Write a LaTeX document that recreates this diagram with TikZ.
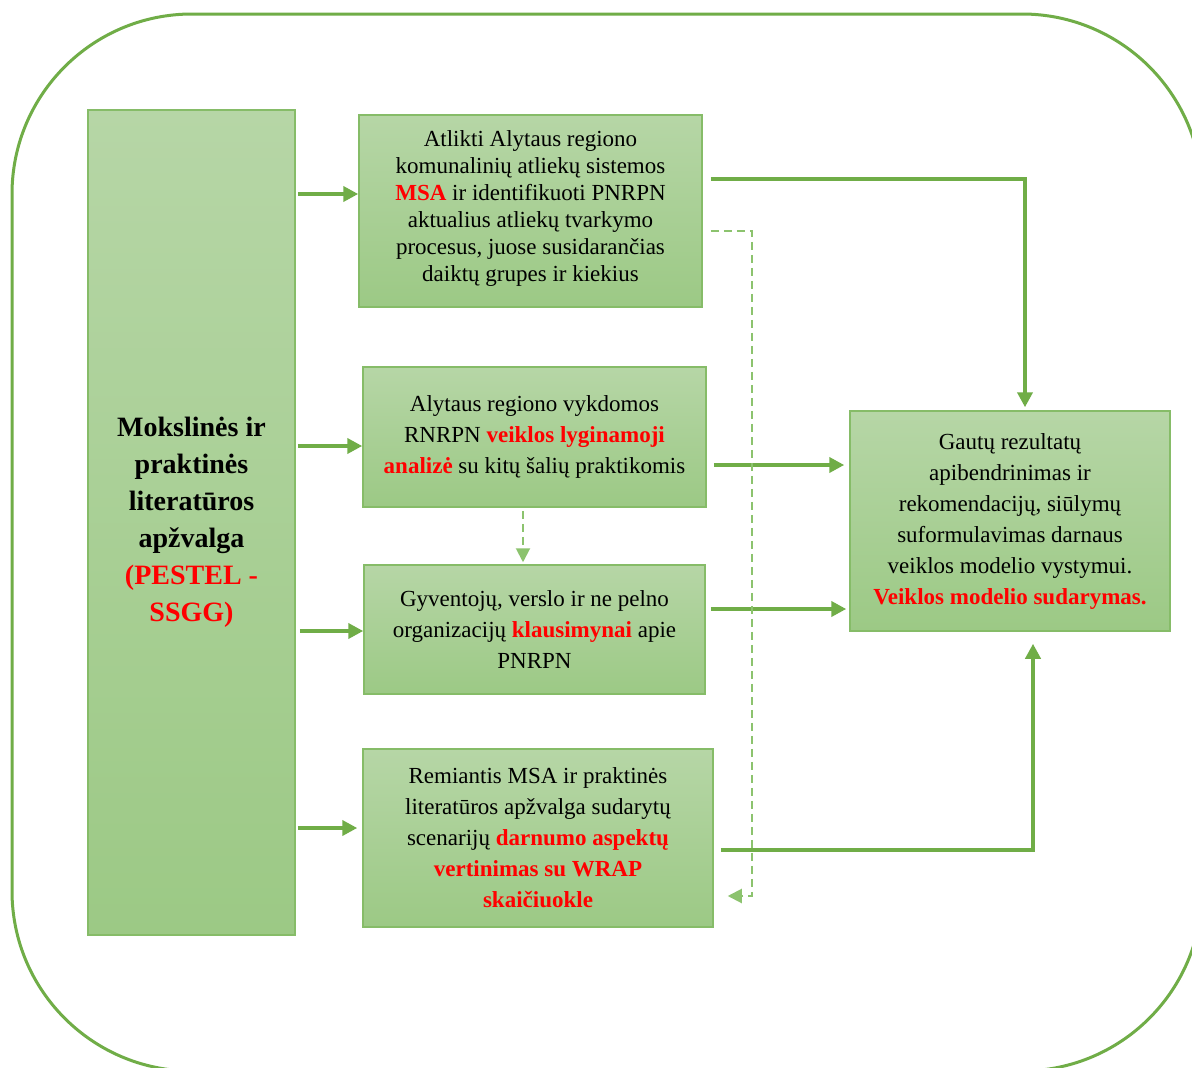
\documentclass[tikz,border=0pt]{standalone}
\usepackage{fontspec}
\setmainfont{Liberation Serif}
\usetikzlibrary{arrows.meta,calc}
\definecolor{gline}{HTML}{70AD47}
\definecolor{gdash}{HTML}{8CC36E}
\definecolor{gtop}{HTML}{B6D6A6}
\definecolor{gbot}{HTML}{9CC985}
\definecolor{gborder}{HTML}{86BC68}
\definecolor{hred}{HTML}{FF0000}
\newcommand{\hl}[1]{\textcolor{hred}{\textbf{#1}}}
\tikzset{
  gbox/.style={draw=gborder, line width=1.5pt, top color=gtop, bottom color=gbot, align=center, inner sep=0pt, font=\fontsize{23}{31}\selectfont},
  arr/.style={draw=gline, line width=4pt, -{Triangle[length=15pt,width=15pt]}},
  darr/.style={draw=gdash, line width=2pt, dash pattern=on 8pt off 5pt, -{Triangle[length=14pt,width=14pt]}},
  outer/.style={draw=gline, line width=3pt, rounded corners=180pt}
}
\begin{document}
\begin{tikzpicture}[x=1pt,y=-1pt]
\useasboundingbox (0,0) rectangle (1192,1068);
\clip (0,0) rectangle (1192,1068);
\fill[white] (0,0) rectangle (1192,1068);
\draw[outer] (12,14) rectangle (1202,1071);

\node[gbox, minimum width=207pt, minimum height=825pt, font=\fontsize{28}{37}\selectfont\bfseries] (L) at (191.5,522.5)
 {Mokslinės ir\\praktinės\\literatūros\\apžvalga\\\textcolor{hred}{(PESTEL -}\\\textcolor{hred}{SSGG)}};

\node[gbox, minimum width=343pt, minimum height=192pt, font=\fontsize{23}{27}\selectfont] (B1) at (530.5,211)
 {Atlikti Alytaus regiono\\komunalinių atliekų sistemos\\\hl{MSA} ir identifikuoti PNRPN\\aktualius atliekų tvarkymo\\procesus, juose susidarančias\\daiktų grupes ir kiekius\\[-17pt]};

\node[gbox, minimum width=343pt, minimum height=140pt] (B2) at (534.5,437)
 {Alytaus regiono vykdomos\\RNRPN \hl{veiklos lyginamoji}\\\hl{analizė} su kitų šalių praktikomis};

\node[gbox, minimum width=341pt, minimum height=129pt] (B3) at (534.5,629.5)
 {Gyventojų, verslo ir ne pelno\\organizacijų \hl{klausimynai} apie\\PNRPN};

\node[gbox, minimum width=350pt, minimum height=178pt] (B4) at (538,838)
 {Remiantis MSA ir praktinės\\literatūros apžvalga sudarytų\\scenarijų \hl{darnumo aspektų}\\\hl{vertinimas su WRAP}\\\hl{skaičiuokle}};

\node[gbox, minimum width=320pt, minimum height=220pt] (R) at (1010,521)
 {Gautų rezultatų\\apibendrinimas ir\\rekomendacijų, siūlymų\\suformulavimas darnaus\\veiklos modelio vystymui.\\\hl{Veiklos modelio sudarymas.}};

% arrows from left box
\draw[arr] ([xshift=2pt]L.east |- {(0,194)}) -- (B1.west |- {(0,194)});
\draw[arr] ([xshift=2pt]L.east |- {(0,446)}) -- (B2.west |- {(0,446)});
\draw[arr] ([xshift=4pt]L.east |- {(0,631)}) -- (B3.west |- {(0,631)});
\draw[arr] ([xshift=2pt]L.east |- {(0,828)}) -- ([xshift=-5pt]B4.west |- {(0,828)});

% arrows to right box
\draw[arr] ([xshift=8pt]B1.east |- {(0,179)}) -| ([yshift=3pt]R.north -| {(1025,0)});
\draw[arr] ([xshift=7pt]B2.east |- {(0,465)}) -- ([xshift=-5pt]R.west |- {(0,465)});
\draw[arr] ([xshift=5pt]B3.east |- {(0,609)}) -- ([xshift=-3pt]R.west |- {(0,609)});
\draw[arr] ([xshift=7pt]B4.east |- {(0,850)}) -| ([yshift=-12pt]R.south -| {(1033,0)});

% dashed arrows
\draw[darr] ([xshift=8pt]B1.east |- {(0,231)}) -- (752,231) -- (752,896) -- ([xshift=14pt]B4.east |- {(0,896)});
\draw[darr] ([yshift=-3pt]B2.south -| {(523,0)}) -- ([yshift=2pt]B3.north -| {(523,0)});
\end{tikzpicture}
\end{document}
